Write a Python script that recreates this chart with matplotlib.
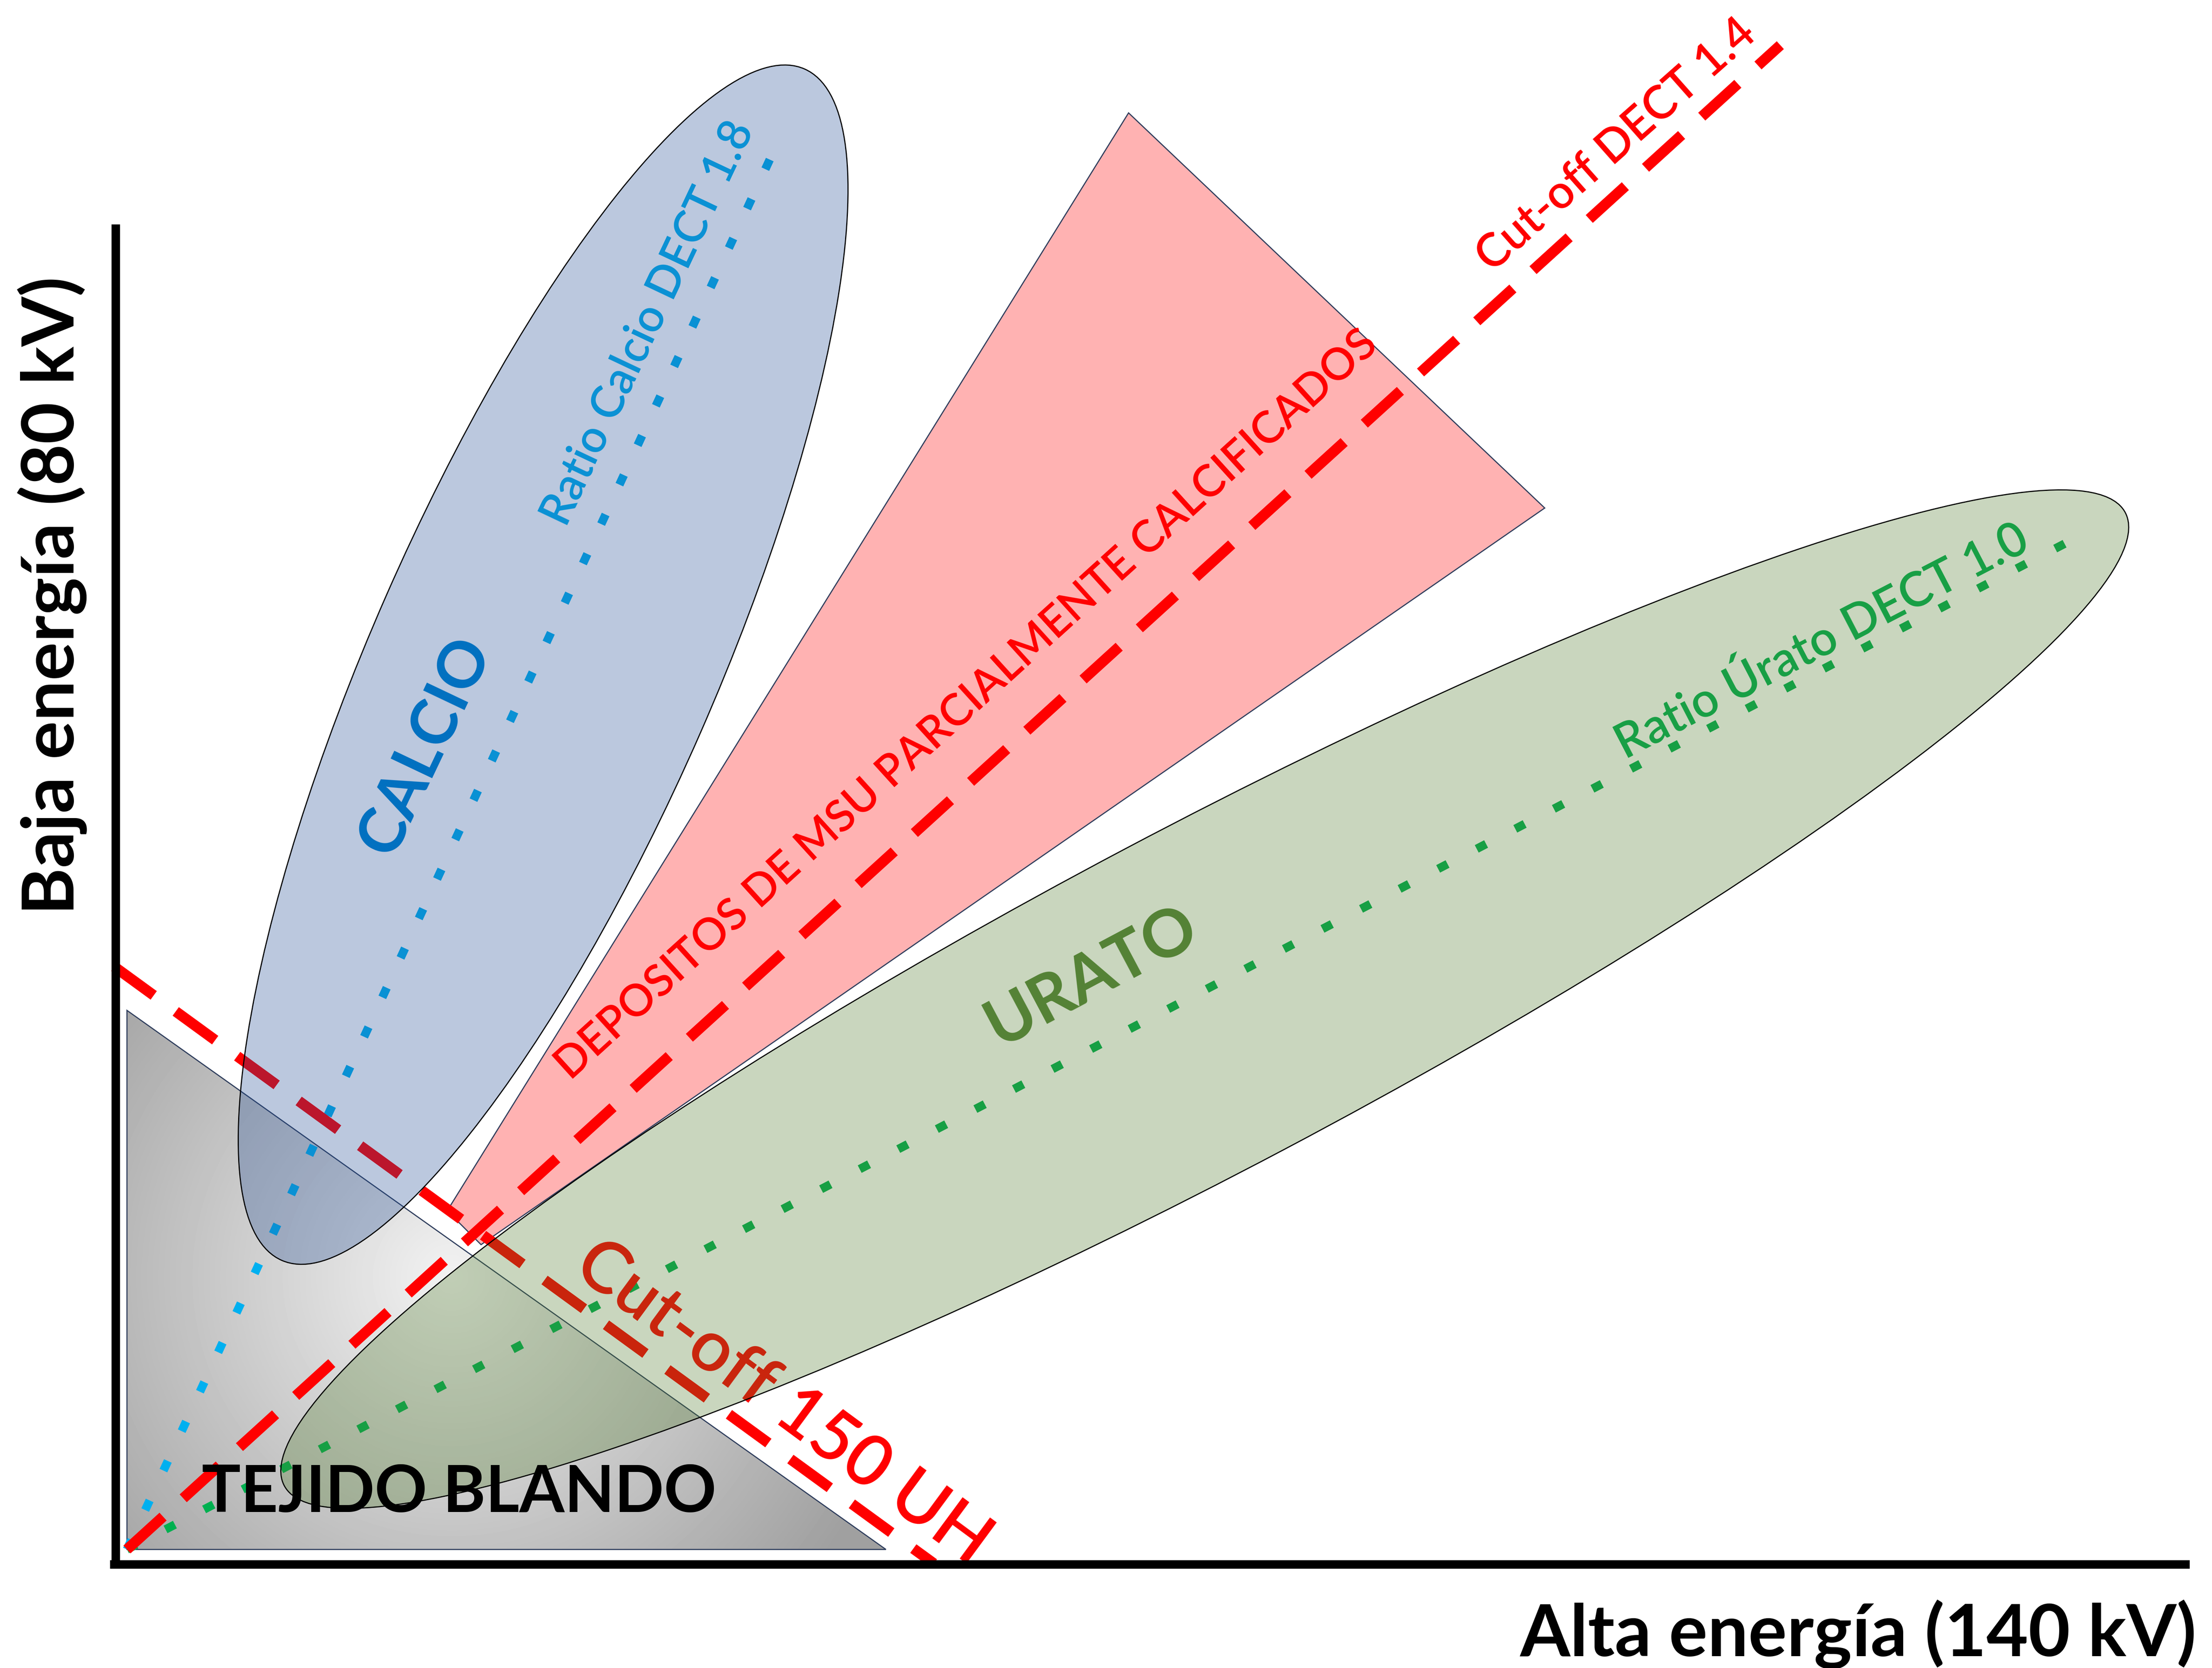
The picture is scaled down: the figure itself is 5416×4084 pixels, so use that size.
import matplotlib.pyplot as plt
import numpy as np
from matplotlib.patches import Ellipse, Polygon

plt.rcParams['font.family'] = ['Lato', 'DejaVu Sans']

# Diagram content
region_names = ['CALCIO', 'URATO', 'TEJIDO BLANDO', 'DEPOSITOS DE MSU PARCIALMENTE CALCIFICADOS']
ratio_names = ['Calcio', 'Úrato']
ratio_values = [1.8, 1.0]
cutoff_ratio = 1.4
cutoff_hu = 150
axis_labels = ['Alta energía (140 kV)', 'Baja energía (80 kV)']

# Drawing units are pixels of the reduced reference (1568 x 1182), y pointing down.
W, H = 1568, 1182
FIG_W, FIG_H, DPI = 5416, 4084, 300
PT = 72 / DPI * FIG_W / W  # points per drawing unit

# Geometry
origin = (90, 1098)
soft_tissue = [(90, 716), (90, 1098), (628, 1098)]
msu_wedge = [(317, 858), (800, 80), (1095, 360), (341, 882)]
calcio_ell = ((385, 471), 922, 243, 66.3)
urato_ell = ((854, 708), 1476, 241, 27.85)
calcio_ratio_end = (548, 108)
urato_ratio_end = (1466, 384)
cutoff_ratio_end = (1262, 32)
cutoff_hu_line = [(81, 685), (662, 1108)]

fig = plt.figure(figsize=(FIG_W / DPI, FIG_H / DPI), dpi=DPI)
ax = fig.add_axes([0, 0, 1, 1])
renderer = fig.canvas.get_renderer()


def fitted_text(x, y, s, length, angle=0, va='center_baseline', **kw):
    t = ax.text(x, y, s, fontsize=10, ha='center', va=va, rotation_mode='anchor', **kw)
    w = t.get_window_extent(renderer).width
    t.set_fontsize(10 * length * FIG_W / W / w)
    t.set_rotation(angle)
    return t


def pattern(lw, on, off):
    return (0, (on / lw, off / lw))


# Soft tissue triangle with radial gradient
tri = Polygon(soft_tissue, closed=True, facecolor='none', edgecolor='#2E3D5C', lw=0.8 * PT, zorder=2)
ax.add_patch(tri)
xs = np.linspace(90, 628, 400)
ys = np.linspace(716, 1098, 300)
xx, yy = np.meshgrid(xs, ys)
r = np.hypot(xx - 320, yy - 905)
shade = 242 - 82 * np.clip(r / 330, 0, 1)
img = ax.imshow(shade, cmap='gray', vmin=0, vmax=255, extent=(90, 628, 1098, 716), origin='upper',
                interpolation='bilinear', zorder=1, aspect='auto')
img.set_clip_path(tri)

# MSU deposits wedge
ax.add_patch(Polygon(msu_wedge, closed=True, facecolor=(1, 0, 0, 0.3), edgecolor='#2E3D5C', lw=0.8 * PT, zorder=2))

# Ratio lines
dot_lw = 6
for end, color in [(calcio_ratio_end, '#00B0F0'), (urato_ratio_end, '#00B050')]:
    ax.plot([origin[0], end[0]], [origin[1], end[1]], color=color, lw=dot_lw * PT,
            linestyle=pattern(dot_lw, 7.5, 23.3), zorder=3)

dash_lw = 7.5
ax.plot([origin[0], cutoff_ratio_end[0]], [origin[1], cutoff_ratio_end[1]], color='red', lw=dash_lw * PT,
        linestyle=pattern(dash_lw, 34.6, 19.3), zorder=3)
ax.plot(*zip(*cutoff_hu_line), color='red', lw=dash_lw * PT,
        linestyle=pattern(dash_lw, 34.6, 19.3), zorder=3)

# Labels that sit under the translucent ellipses
fitted_text(457, 228, f'Ratio {ratio_names[0]} DECT {ratio_values[0]}', 312, 64.7,
            color='#00B0F0', weight='semibold', zorder=3)
fitted_text(1290, 452, f'Ratio {ratio_names[1]} DECT {ratio_values[1]}', 324, 27.4,
            color='#00B050', weight='semibold', zorder=3)
fitted_text(557.5, 991, f'Cut-off {cutoff_hu} UH', 352, -36.4, color='red', weight='semibold', zorder=3)

# Translucent ellipses
for (c, w, h, a), rgb in [(calcio_ell, (32, 75, 148)), (urato_ell, (78, 122, 42))]:
    ax.add_patch(Ellipse(c, w, h, angle=-a, facecolor=(*[v / 255 for v in rgb], 0.3),
                         edgecolor='black', lw=0.8 * PT, zorder=4))

# Top labels
fitted_text(298, 527, region_names[0], 165, 64.6, color='#0070C0', weight='bold', zorder=5)
fitted_text(772, 688.5, region_names[1], 163, 28, color='#548235', weight='bold', zorder=5)
fitted_text(325.5, 1071.5, region_names[2], 365, va='baseline', color='black', weight='bold', zorder=5)
fitted_text(683.5, 497.5, region_names[3], 772, 42.2, color='red', weight='semibold', zorder=5)
fitted_text(1144, 101, f'Cut-off DECT {cutoff_ratio}', 252, 41.5, color='red', weight='semibold', zorder=5)

# Axes
ax.plot([82, 82], [159, 1111], color='black', lw=6 * PT, solid_capstyle='butt', zorder=6)
ax.plot([78, 1552], [1108.5, 1108.5], color='black', lw=6 * PT, solid_capstyle='butt', zorder=6)
fitted_text(1317.5, 1173.5, axis_labels[0], 479, va='baseline', color='black', weight='bold', zorder=6)
fitted_text(52.5, 422, axis_labels[1], 452, 90, va='baseline', color='black', weight='bold', zorder=6)

ax.set_xlim(0, W)
ax.set_ylim(H, 0)
ax.axis('off')
fig.savefig('out.png', dpi=DPI, facecolor='white')
